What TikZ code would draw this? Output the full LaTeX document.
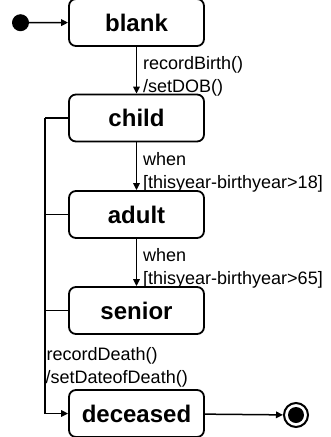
\documentclass[tikz,border=0pt]{standalone}
\usepackage{fontspec}
\setmainfont{Liberation Sans}
\usetikzlibrary{arrows.meta}
\begin{document}
\begin{tikzpicture}[x=1pt,y=-1pt,
  state/.style={draw, line width=1.8pt, rounded corners=7pt, minimum width=135pt, minimum height=47pt, inner sep=0pt, font=\fontsize{24}{28}\selectfont\bfseries},
  lbl/.style={anchor=base west, inner sep=0pt, font=\fontsize{18}{22}\selectfont},
  arr/.style={line width=1.5pt, -{Triangle[length=7pt,width=6.5pt]}},
  conn/.style={line width=1.5pt}]
\useasboundingbox (0,0) rectangle (330,437);
\node[state] (blank) at (136.5,22.5) {blank};
\node[state] (child) at (136.5,118) {child};
\node[state] (adult) at (136.5,214.5) {adult};
\node[state] (senior) at (136.5,310.5) {senior};
\node[state] (deceased) at (136.5,413.5) {deceased};
\node[circle, fill, minimum size=17pt, inner sep=0pt] (init) at (20.5,22.7) {};
\node[circle, draw, line width=2pt, minimum size=24pt, inner sep=0pt] (final) at (296,415) {};
\node[circle, fill, minimum size=16pt, inner sep=0pt] (finalin) at (296,415) {};
\draw[arr] (init) -- (blank);
\draw[arr] (blank) -- (child);
\draw[arr] (child) -- (adult);
\draw[arr] (adult) -- (senior);
\draw[arr] (deceased) -- (final);
\coordinate (bt) at (45,118);
\draw[conn] (child.west) -- (bt);
\draw[arr] (bt) |- (deceased.west);
\draw[conn] (adult.west) -- (adult.west -| bt);
\draw[conn] (senior.west) -- (senior.west -| bt);
\node[lbl] (l1a) at (143,69) {recordBirth()};
\node[lbl] (l1b) at (143,92) {/setDOB()};
\node[lbl] (l2a) at (143,165) {when};
\node[lbl] (l2b) at (143,188) {[thisyear-birthyear>18]};
\node[lbl] (l3a) at (143,261) {when};
\node[lbl] (l3b) at (143,284) {[thisyear-birthyear>65]};
\node[lbl] (l4a) at (46.5,360) {recordDeath()};
\node[lbl] (l4b) at (45.5,383) {/setDateofDeath()};
\end{tikzpicture}
\end{document}
